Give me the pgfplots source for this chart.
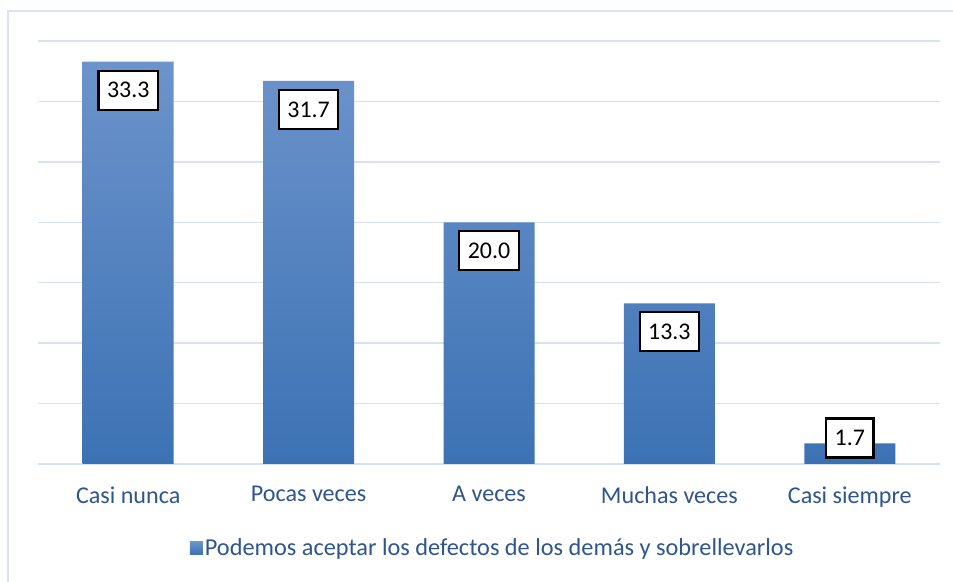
\documentclass[border=0pt]{standalone}
\usepackage{pgfplots}
\pgfplotsset{compat=1.18}
\usepackage{fontspec}
\setmainfont{Carlito}
\definecolor{bartop}{HTML}{6C93CB}
\definecolor{barbot}{HTML}{3C72B4}
\definecolor{gridc}{HTML}{D6E2F4}
\definecolor{framec}{HTML}{D9E5F5}
\definecolor{txtc}{HTML}{2E5590}
\begin{document}
\begin{tikzpicture}
\useasboundingbox (0bp,0bp) rectangle (953bp,582bp);
\draw[framec, line width=1.5bp] (8bp,-5bp) -- (8bp,571bp) -- (960bp,571bp);
\begin{axis}[
  at={(38bp,118bp)}, anchor=south west,
  scale only axis,
  width=902bp, height=423bp,
  xmin=-0.5, xmax=4.5,
  ymin=0, ymax=35,
  ytick={0,5,...,35},
  yticklabels={},
  ymajorgrids,
  grid style={gridc, line width=1.5bp},
  axis line style={draw=none},
  major tick length=0pt,
  xtick={0,1,2,3,4},
  xticklabels={Casi nunca,Pocas veces,A veces,Muchas veces,Casi siempre},
  xticklabel style={font=\fontsize{24.2}{28}\selectfont, text=txtc, yshift=-19bp},
  legend style={at={(axis description cs:0.504,-0.199)}, anchor=center, draw=none,
    font=\fontsize{24.4}{28}\selectfont, text=txtc, fill=none,
    legend cell align=left, inner xsep=0pt,
    /tikz/every even column/.append style={column sep=0pt}},
  legend image code/.code={\fill[top color=bartop, bottom color=barbot] (4bp,-6.5bp) rectangle (17bp,6.5bp);},
  nodes near coords={\pgfmathprintnumber[fixed,zerofill,precision=1,assume math mode=true]{\pgfplotspointmeta}},
  visualization depends on={\thisrow{shift} \as \myshift},
  every node near coord/.append style={draw=black, line width=2.2bp, fill=white,
    font=\fontsize{24}{28}\selectfont, text=black, anchor=north, yshift=\myshift bp,
    inner xsep=8.5bp, inner ysep=6bp, minimum height=39bp},
]
\addplot[ybar, bar width=91bp, draw=none, top color=bartop, bottom color=barbot]
  table[x=x, y=y] {
  x y shift
  0 33.3 -8
  1 31.7 -8
  2 20.0 -8
  3 13.3 -8
  4 1.7 26
};
\addlegendentry{Podemos aceptar los defectos de los demás y sobrellevarlos}
\end{axis}
\end{tikzpicture}
\end{document}
